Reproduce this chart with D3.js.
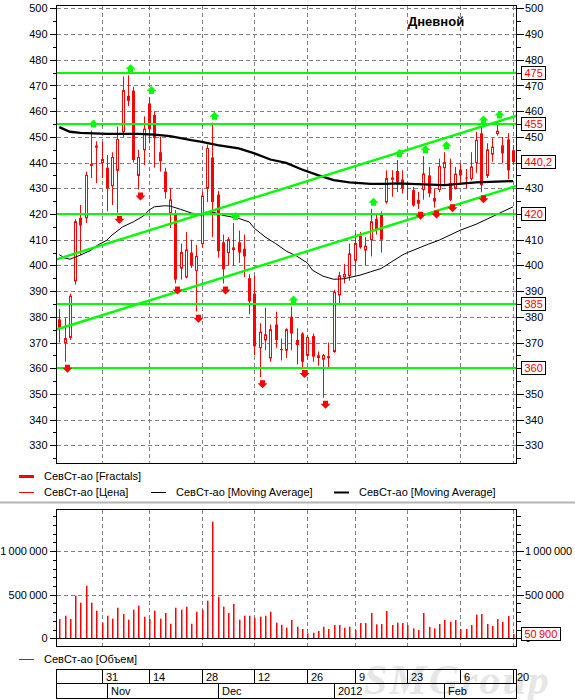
<!DOCTYPE html>
<html>
<head>
<meta charset="utf-8">
<script src="https://cdn.jsdelivr.net/npm/d3@7"></script>
<style>
body { margin: 0; background: #fff; }
svg { display: block; }
text { font-family: "Liberation Sans", Arial, sans-serif; font-size: 11px; }
.grid { stroke: #808080; stroke-dasharray: 4,3; shape-rendering: crispEdges; }
.frame { fill: none; stroke: #000; shape-rendering: crispEdges; }
.axis line { stroke: #000; shape-rendering: crispEdges; }
</style>
</head>
<body>
<svg class="chart"></svg>
<script>

//
// data
//

var dates = [
    "2011-10-19", "2011-10-20", "2011-10-21", "2011-10-24", "2011-10-25", "2011-10-26", "2011-10-27", "2011-10-28", "2011-10-31",
    "2011-11-01", "2011-11-02", "2011-11-03", "2011-11-07", "2011-11-08", "2011-11-09", "2011-11-10", "2011-11-11",
    "2011-11-14", "2011-11-15", "2011-11-16", "2011-11-17", "2011-11-18", "2011-11-21", "2011-11-22", "2011-11-23",
    "2011-11-24", "2011-11-25", "2011-11-28", "2011-11-29", "2011-11-30",
    "2011-12-01", "2011-12-02", "2011-12-05", "2011-12-06", "2011-12-07", "2011-12-08", "2011-12-09",
    "2011-12-12", "2011-12-13", "2011-12-14", "2011-12-15", "2011-12-16", "2011-12-19", "2011-12-20", "2011-12-21",
    "2011-12-22", "2011-12-23", "2011-12-26", "2011-12-27", "2011-12-28", "2011-12-29", "2011-12-30",
    "2012-01-03", "2012-01-04", "2012-01-05", "2012-01-06", "2012-01-09", "2012-01-10", "2012-01-11", "2012-01-12",
    "2012-01-13", "2012-01-16", "2012-01-17", "2012-01-18", "2012-01-19", "2012-01-20", "2012-01-23", "2012-01-24",
    "2012-01-25", "2012-01-26", "2012-01-27", "2012-01-30", "2012-01-31",
    "2012-02-01", "2012-02-02", "2012-02-03", "2012-02-06", "2012-02-07", "2012-02-08", "2012-02-09", "2012-02-10",
    "2012-02-13", "2012-02-14", "2012-02-15", "2012-02-16", "2012-02-17", "2012-02-20"
];

var open = [379, 370, 372, 394, 418.5, 418.5, 439, 446, 440, 438,
    431, 437, 452, 466, 468, 435, 445, 463, 458.5, 444,
    436.5, 420.5, 420, 399, 395.5, 405, 398, 408.5, 430, 442,
    427.5, 409, 405, 407, 409, 406.5, 395, 389, 368, 371,
    364, 377, 367.5, 367, 380, 371, 373.5, 365, 372.5, 365,
    363.5, 364.2, 366.5, 388.5, 395.5, 396, 402, 411.5, 406, 410,
    418, 420, 424.7, 433.5, 436.7, 433.4, 432, 429.3, 425.5, 429.5,
    435, 425, 429.5, 438, 432, 430, 437.3, 434.2, 433.8, 440,
    451.4, 435, 443.3, 451.3, 446.7, 449, 444.8];

var high = [383, 379.5, 389, 418, 423.5, 436.5, 452.5, 448.3, 448, 443,
    444, 454, 473.5, 474, 469.5, 445, 458, 465.5, 460, 450,
    438, 430, 421.5, 408.5, 413, 410, 408, 428.5, 447, 455.5,
    429, 412, 411, 416.5, 413.5, 412, 396.5, 396, 377.5, 383.5,
    377, 382, 371.5, 375.5, 384, 375.5, 374, 373, 373.5, 366.5,
    365.5, 370, 390.5, 397.5, 400.5, 408.5, 412.5, 413, 411, 422,
    420, 421, 437, 437, 441, 437, 432.5, 430.5, 428.6, 442.5,
    438.3, 430, 441.5, 444, 441.5, 438.3, 439.7, 437.5, 444, 452,
    454, 447.5, 449.5, 456, 450, 451.5, 446.8];

var low = [370, 362.5, 371, 392.5, 404, 416.5, 434, 432, 434, 421,
    423.5, 420.5, 450, 462, 440, 429.5, 439, 447.5, 438, 436.5,
    426, 414.5, 393, 394.5, 395, 399, 382, 407, 424.7, 411,
    403, 393, 400, 400, 401, 395.5, 381, 365, 356.5, 367,
    362.5, 368, 363, 364, 367, 361.5, 360.5, 363.5, 362.5, 361,
    348.5, 360, 366, 384.5, 393, 394, 397.5, 406.5, 400, 403.5,
    412, 405, 424, 426.7, 428.6, 428, 425.4, 422.8, 422, 425.6,
    426.5, 422.5, 428.5, 431, 425, 429.5, 432, 430, 433, 436,
    428.5, 434, 440.3, 450.5, 439.7, 433.5, 439];

var close = [375.5, 371.5, 388, 417, 415.5, 435, 439.3, 446.4, 441.2, 430,
    442, 449, 468, 464, 441, 442, 453, 453, 449.5, 440.5,
    428.5, 425.5, 394.5, 405, 406, 400, 403.5, 427, 445.5, 424.7,
    405.5, 398.5, 410, 406, 405, 403.5, 386, 368.5, 374, 373,
    375, 371, 367, 375, 373.5, 369, 362.5, 372, 364.5, 364,
    365, 364.5, 389.5, 396, 396.5, 404.5, 408.5, 407, 407.5, 417,
    414, 410, 433.8, 434, 432.5, 430, 431.5, 423.3, 424, 435.6,
    428, 426, 438.5, 440, 425.5, 435.5, 435, 433.8, 438.3, 448.7,
    431.2, 445, 446, 452.2, 443.6, 437, 440.2];

var volume = [221000, 259000, 221000, 489000, 408000, 603000, 408000, 317000, 179000, 259000,
    225000, 351000, 279000, 214000, 328000, 374000, 248000, 221000, 317000, 225000,
    290000, 167000, 351000, 328000, 362000, 167000, 305000, 328000, 431000, 1337000,
    477000, 362000, 290000, 393000, 214000, 259000, 259000, 236000, 248000, 259000,
    305000, 179000, 156000, 122000, 210000, 133000, 107000, 57000, 64000, 84000,
    133000, 107000, 153000, 153000, 122000, 133000, 95000, 175000, 175000, 290000,
    160000, 164000, 313000, 153000, 179000, 175000, 153000, 114000, 95000, 290000,
    130000, 114000, 164000, 210000, 190000, 210000, 107000, 107000, 153000, 271000,
    279000, 164000, 141000, 221000, 187000, 256000, 50900];

// moving averages: [bar index, value]
var maSlow = [[0, 453.8], [2, 452.0], [4, 451.6], [9, 451.2], [15, 451.2], [18, 450.9], [21, 450.3],
    [25, 448.7], [27, 448.1], [30, 446.8], [34, 445.5], [37, 443.6], [40, 441.2], [43, 439.9],
    [46, 437.3], [49, 435.1], [52, 433.2], [55, 432.3], [59, 431.7], [62, 431.7], [64, 431.9],
    [73, 431.2], [79, 432.3], [86, 432.8]];

var maFast = [[0, 404.2], [1, 402.9], [2, 402.4], [4, 404.0], [6, 405.9], [7, 407.6], [9, 409.8],
    [10, 411.8], [12, 415.0], [14, 416.9], [16, 419.3], [17, 421.5], [18, 422.8], [20, 423.2],
    [21, 423.1], [23, 421.8], [25, 420.4], [27, 419.5], [28, 420.8], [29, 420.8], [31, 419.5],
    [34, 418.3], [36, 416.9], [37, 414.4], [39, 411.1], [41, 408.5], [43, 405.6], [45, 403.6],
    [47, 401.0], [48, 398.1], [50, 395.8], [52, 394.6], [54, 394.8], [55, 395.3], [57, 396.2],
    [59, 397.5], [61, 398.8], [63, 401.4], [65, 404.0], [66, 405.0], [70, 408.3], [72, 409.8],
    [76, 413.7], [79, 416.0], [82, 418.9], [86, 422.8]];

var fractalUp = [6, 13, 17, 29, 33, 44, 59, 64, 69, 73, 80, 83];
var fractalDown = [1, 11, 15, 22, 26, 31, 38, 46, 50, 68, 71, 74, 80];

var levels = [475, 455, 420, 385, 360];
var channelUpper = [[0, 402.7], [86, 457.8]];
var channelLower = [[0, 375.4], [86, 430.5]];

var priceTicks = [330, 340, 350, 360, 370, 380, 390, 400, 410, 420, 430, 440, 450, 460, 470, 480, 490, 500];
var priceMinorTicks = [325, 335, 345, 355, 365, 375, 385, 395, 405, 415, 425, 435, 445, 455, 465, 475, 485, 495];
var volumeTicks = [0, 500000, 1000000];
var volumeMinorTicks = [100000, 200000, 300000, 400000, 600000, 700000, 800000, 900000, 1100000, 1200000, 1300000, 1400000];

var tickDates = ["2011-10-31", "2011-11-14", "2011-11-28", "2011-12-12", "2011-12-26", "2012-01-09", "2012-01-23", "2012-02-06", "2012-02-20"];
var tickLabels = ["31", "14", "28", "12", "26", "9", "23", "6", "20"];
var monthDates = ["2011-11-01", "2011-12-01", "2012-01-03", "2012-02-01"];
var monthLabels = ["Nov", "Dec", "2012", "Feb"];

//
// scene
//

var width = 575,
    height = 700;

var left = 56.5, right = 516.5;
var priceTop = 5.5, priceBottom = 463.5;
var volTop = 509.5, volBottom = 646.5;
var green = "#00ff00", red = "#ff0000";

var svg = d3.select(".chart")
    .attr("width", width)
    .attr("height", height);

var x = d3.scalePoint().domain(dates).range([59.3, 513]);
var y = d3.scaleLinear().domain([323, 501.2]).range([463.3, 5.3]);
var yv = d3.scaleLinear().domain([-88000, 1479000]).range([646, 509.3]);

function xi(i) { return x(dates[i]); }
function snap(v) { return Math.round(v) + 0.5; }

var ru = d3.formatLocale({decimal: ",", thousands: "\u2009", grouping: [3], currency: ["", ""]});
var fmtVol = ru.format(",");
var fmtPrice = ru.format(".1f");

// watermark
svg.append("text")
    .attr("x", 364)
    .attr("y", 694)
    .style("font-family", "'Liberation Serif', serif")
    .style("font-size", "42px")
    .style("font-weight", "bold")
    .style("font-style", "italic")
    .style("letter-spacing", "2px")
    .attr("fill", "#e6e6e6")
    .text("SMGroup");

//
// price panel
//

var price = svg.append("g");

price.selectAll("line.hgrid")
    .data(priceTicks)
    .enter().append("line")
    .attr("class", "grid")
    .attr("x1", left).attr("x2", right)
    .attr("y1", function (d) { return snap(y(d)); })
    .attr("y2", function (d) { return snap(y(d)); });

price.selectAll("line.vgrid")
    .data(tickDates)
    .enter().append("line")
    .attr("class", "grid")
    .attr("x1", function (d) { return snap(x(d)); })
    .attr("x2", function (d) { return snap(x(d)); })
    .attr("y1", priceTop).attr("y2", priceBottom);

function axisPair(g, scale, major, minor, fmt) {
    g.append("g").attr("class", "axis")
        .attr("transform", "translate(" + left + ",0)")
        .call(d3.axisLeft(scale).tickValues(major).tickSize(7).tickPadding(2).tickFormat(fmt))
        .call(function (a) { a.select(".domain").remove(); });
    g.append("g").attr("class", "axis")
        .attr("transform", "translate(" + left + ",0)")
        .call(d3.axisLeft(scale).tickValues(minor).tickSize(4).tickFormat(""))
        .call(function (a) { a.select(".domain").remove(); });
    g.append("g").attr("class", "axis")
        .attr("transform", "translate(" + right + ",0)")
        .call(d3.axisRight(scale).tickValues(major).tickSize(7).tickPadding(1.5).tickFormat(fmt))
        .call(function (a) { a.select(".domain").remove(); });
    g.append("g").attr("class", "axis")
        .attr("transform", "translate(" + right + ",0)")
        .call(d3.axisRight(scale).tickValues(minor).tickSize(4).tickFormat(""))
        .call(function (a) { a.select(".domain").remove(); });
}
axisPair(price, y, priceTicks, priceMinorTicks, d3.format("d"));

// candles
var candles = price.selectAll("g.candle")
    .data(dates)
    .enter().append("g")
    .attr("class", "candle")
    .attr("transform", function (d) { return "translate(" + Math.round(x(d)) + ",0)"; });

candles.append("line")
    .attr("x1", 0.5).attr("x2", 0.5)
    .attr("y1", function (d, i) { return y(high[i]); })
    .attr("y2", function (d, i) { return y(low[i]); })
    .attr("stroke", red);

candles.append("rect")
    .attr("x", function (d, i) { return close[i] >= open[i] ? -0.5 : -1; })
    .attr("width", function (d, i) { return close[i] >= open[i] ? 2 : 3; })
    .attr("y", function (d, i) { return y(Math.max(open[i], close[i])); })
    .attr("height", function (d, i) { return Math.max(1, Math.abs(y(open[i]) - y(close[i]))); })
    .attr("fill", function (d, i) { return close[i] >= open[i] ? "#fff" : red; })
    .attr("stroke", function (d, i) { return close[i] >= open[i] ? red : "none"; });

// moving averages
var line = d3.line()
    .x(function (d) { return xi(d[0]); })
    .y(function (d) { return y(d[1]); });

price.append("path")
    .datum(maFast)
    .attr("d", line)
    .attr("fill", "none")
    .attr("stroke", "#000")
    .attr("stroke-width", 1);

price.append("path")
    .datum(maSlow)
    .attr("d", line)
    .attr("fill", "none")
    .attr("stroke", "#000")
    .attr("stroke-width", 2.3);

// support / resistance levels
price.selectAll("line.level")
    .data(levels)
    .enter().append("line")
    .attr("x1", left).attr("x2", right)
    .attr("y1", function (d) { return Math.round(y(d)); })
    .attr("y2", function (d) { return Math.round(y(d)); })
    .attr("stroke", green)
    .attr("stroke-width", 2);

// channel, extended to the frame
[channelUpper, channelLower].forEach(function (c) {
    var x0 = xi(c[0][0]), x1 = xi(c[1][0]);
    var slope = (c[1][1] - c[0][1]) / (x1 - x0);
    price.append("line")
        .attr("x1", left).attr("x2", right)
        .attr("y1", y(c[0][1] + slope * (left - x0)))
        .attr("y2", y(c[0][1] + slope * (right - x0)))
        .attr("stroke", green)
        .attr("stroke-width", 2.4);
});

// fractals
price.selectAll("path.fup")
    .data(fractalUp)
    .enter().append("path")
    .attr("transform", function (i) { return "translate(" + (Math.round(xi(i)) + 2.5) + "," + (y(high[i]) - 3) + ")"; })
    .attr("d", "M-2.5,0V-3H-5L0,-8L5,-3H2.5V0Z")
    .attr("fill", green);

price.selectAll("path.fdown")
    .data(fractalDown)
    .enter().append("path")
    .attr("transform", function (i) { return "translate(" + (Math.round(xi(i)) + 2.5) + "," + (y(low[i]) + 3) + ")"; })
    .attr("d", "M-2.5,0V3H-5L0,8L5,3H2.5V0Z")
    .attr("fill", red);

price.append("rect")
    .attr("class", "frame")
    .attr("x", left).attr("y", priceTop)
    .attr("width", right - left).attr("height", priceBottom - priceTop);

price.append("text")
    .attr("x", 408)
    .attr("y", 26)
    .style("font-size", "13px")
    .style("font-weight", "bold")
    .text("Дневной");

// value boxes on the right scale
function valueBox(g, yy, label) {
    var box = g.append("g").attr("transform", "translate(521," + Math.round(yy) + ")");
    var r = box.append("rect")
        .attr("y", -6.5).attr("height", 13)
        .attr("x", 0.5)
        .attr("fill", "#fff")
        .attr("stroke", "#000")
        .style("shape-rendering", "crispEdges");
    var t = box.append("text")
        .attr("x", 3.5)
        .attr("dy", "0.36em")
        .attr("fill", red)
        .text(label);
    r.attr("width", t.node().getComputedTextLength() + 6);
}
levels.forEach(function (v) { valueBox(price, y(v), d3.format("d")(v)); });
valueBox(price, y(close[close.length - 1]), fmtPrice(close[close.length - 1]));

//
// legend
//

var legend = svg.append("g");
var legendItems = [
    {x: 19, y: 476.5, color: red, w: 3, label: "СевСт-ао [Fractals]"},
    {x: 19, y: 492.5, color: red, w: 1, label: "СевСт-ао [Цена]"},
    {x: 151, y: 492.5, color: "#000", w: 1, label: "СевСт-ао [Moving Average]"},
    {x: 334, y: 492.5, color: "#000", w: 2, label: "СевСт-ао [Moving Average]"},
    {x: 19, y: 659.5, color: red, w: 1, label: "СевСт-ао [Объем]"}
];
legendItems.forEach(function (d) {
    legend.append("line")
        .attr("x1", d.x).attr("x2", d.x + 15)
        .attr("y1", d.y).attr("y2", d.y)
        .attr("stroke", d.color)
        .attr("stroke-width", d.w);
    legend.append("text")
        .attr("x", d.x + 25)
        .attr("y", d.y)
        .attr("dy", "0.36em")
        .text(d.label);
});

svg.append("line")
    .attr("x1", 0).attr("x2", width)
    .attr("y1", 502.5).attr("y2", 502.5)
    .attr("stroke", "#b4b4b4")
    .attr("stroke-width", 2);

//
// volume panel
//

var vol = svg.append("g");

vol.selectAll("line.hgrid")
    .data(volumeTicks.slice(1))
    .enter().append("line")
    .attr("class", "grid")
    .attr("x1", left).attr("x2", right)
    .attr("y1", function (d) { return snap(yv(d)); })
    .attr("y2", function (d) { return snap(yv(d)); });

vol.selectAll("line.vgrid")
    .data(tickDates)
    .enter().append("line")
    .attr("class", "grid")
    .attr("x1", function (d) { return snap(x(d)); })
    .attr("x2", function (d) { return snap(x(d)); })
    .attr("y1", volTop).attr("y2", volBottom);

axisPair(vol, yv, volumeTicks, volumeMinorTicks, fmtVol);

vol.selectAll("rect.bar")
    .data(volume)
    .enter().append("rect")
    .attr("x", function (d, i) { return Math.round(xi(i)); })
    .attr("width", 1.5)
    .attr("y", function (d) { return yv(d); })
    .attr("height", function (d) { return yv(0) - yv(d); })
    .attr("fill", red);

vol.append("line")
    .attr("x1", left).attr("x2", right)
    .attr("y1", snap(yv(0))).attr("y2", snap(yv(0)))
    .attr("stroke", "#000")
    .style("shape-rendering", "crispEdges");

vol.append("rect")
    .attr("class", "frame")
    .attr("x", left).attr("y", volTop)
    .attr("width", right - left).attr("height", volBottom - volTop);

valueBox(vol, yv(volume[volume.length - 1]), fmtVol(volume[volume.length - 1]));

//
// date scale
//

var dateAxis = svg.append("g");
var rowTop = 669.5, rowMid = 683.5, rowBottom = 698.5;

dateAxis.append("rect")
    .attr("class", "frame")
    .attr("x", left).attr("y", rowTop)
    .attr("width", right - left).attr("height", rowBottom - rowTop);
dateAxis.append("line")
    .attr("x1", left).attr("x2", right)
    .attr("y1", rowMid).attr("y2", rowMid)
    .attr("stroke", "#000");

dateAxis.selectAll("line.day")
    .data(tickDates)
    .enter().append("line")
    .attr("x1", function (d) { return snap(x(d)); })
    .attr("x2", function (d) { return snap(x(d)); })
    .attr("y1", rowTop).attr("y2", rowMid)
    .attr("stroke", "#000");

dateAxis.selectAll("text.day")
    .data(tickDates)
    .enter().append("text")
    .attr("x", function (d) { return Math.round(x(d)) + 4; })
    .attr("y", 680.5)
    .text(function (d, i) { return tickLabels[i]; });

dateAxis.selectAll("line.month")
    .data(monthDates)
    .enter().append("line")
    .attr("x1", function (d) { return snap(x(d)); })
    .attr("x2", function (d) { return snap(x(d)); })
    .attr("y1", rowMid).attr("y2", rowBottom)
    .attr("stroke", "#000");

dateAxis.selectAll("text.month")
    .data(monthDates)
    .enter().append("text")
    .attr("x", function (d) { return Math.round(x(d)) + 4; })
    .attr("y", 695)
    .text(function (d, i) { return monthLabels[i]; });

</script>
</body>
</html>
